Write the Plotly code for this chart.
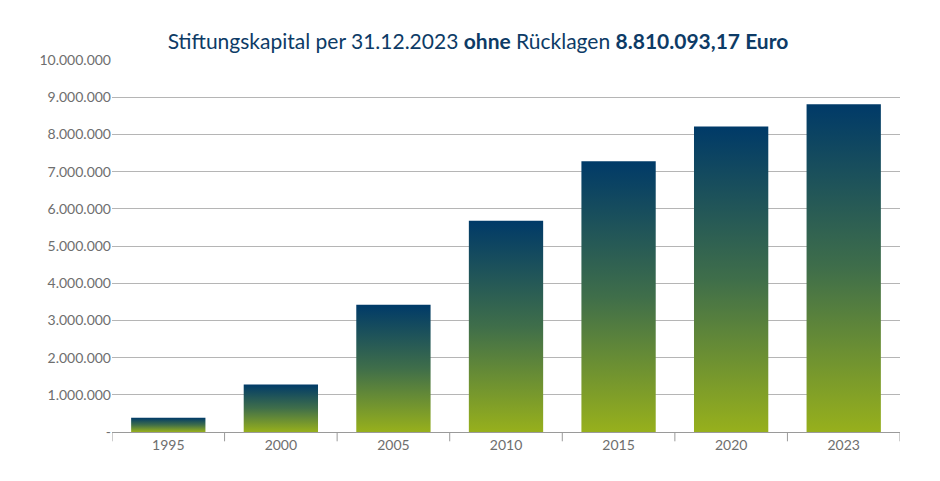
import plotly.graph_objects as go

years = ["1995", "2000", "2005", "2010", "2015", "2020", "2023"]
capital = [380000, 1280000, 3420000, 5680000, 7280000, 8210000, 8810093.17]
tick_vals = [0, 1e6, 2e6, 3e6, 4e6, 5e6, 6e6, 7e6, 8e6, 9e6, 1e7]
tick_text = ["-", "1.000.000", "2.000.000", "3.000.000", "4.000.000", "5.000.000",
             "6.000.000", "7.000.000", "8.000.000", "9.000.000", "10.000.000"]

gradient = [[0, "#97b01c"], [0.5, "#3f6e4a"], [1, "#003a68"]]
half = 0.33

fig = go.Figure()
for i, (yr, v) in enumerate(zip(years, capital)):
    fig.add_trace(go.Scatter(
        x=[i - half, i + half, i + half, i - half, i - half],
        y=[0, 0, v, v, 0],
        mode="lines", fill="toself", line=dict(width=0),
        fillgradient=dict(type="vertical", colorscale=gradient),
        showlegend=False, hoverinfo="skip"))

# category dividers on the x axis
fig.update_xaxes(
    range=[-0.5, len(years) - 0.5],
    tickvals=list(range(len(years))), ticktext=years,
    showgrid=False, zeroline=False, showline=True, linecolor="#9a9a9a",
    ticks="", tickfont=dict(size=14, color="#6e6e6e"))
for b in range(len(years) + 1):
    fig.add_shape(type="line", xref="x", yref="paper", x0=b - 0.5, x1=b - 0.5,
                  y0=0, y1=-0.025, line=dict(color="#9a9a9a", width=1))

fig.update_yaxes(
    range=[0, 1e7], tickvals=tick_vals, ticktext=tick_text,
    showgrid=True, gridcolor="#b5b5b5", gridwidth=1, zeroline=False,
    ticks="", tickfont=dict(size=14, color="#6e6e6e"))

fig.update_layout(
    width=940, height=481,
    margin=dict(l=104, r=48, t=52, b=57),
    paper_bgcolor="white", plot_bgcolor="white",
    font=dict(family="Lato, Open Sans, sans-serif"),
    title=dict(
        text="Stiftungskapital per 31.12.2023 <b>ohne</b> Rücklagen <b>8.810.093,17 Euro</b>",
        x=0.5, xanchor="center", y=0.93, yanchor="middle",
        font=dict(size=21, color="#0d3b66")))

fig.write_html("out.html")
